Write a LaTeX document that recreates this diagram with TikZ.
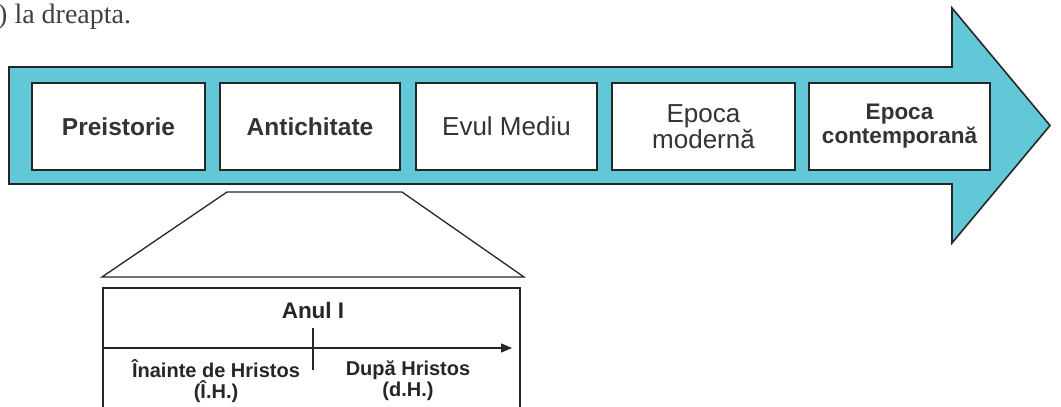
\documentclass[tikz,border=0pt]{standalone}
\usepackage{fontspec}
\setmainfont{Liberation Sans}
\newfontfamily\serifx{Liberation Serif}
\usetikzlibrary{arrows.meta}
\definecolor{bandblue}{RGB}{98,200,216}
\tikzset{
  era/.style={draw=black!85, line width=1.6pt, fill=white, minimum width=#1, minimum height=87pt, inner sep=0pt, align=center, text=black!80},
  era/.default=180pt,
  outline/.style={draw=black!85, line width=1.6pt},
  lbl/.style={font=\fontsize{20}{21}\selectfont\bfseries, text=black!85, align=center, inner sep=0pt}
}
\begin{document}
\begin{tikzpicture}[x=1pt,y=-1pt]
\useasboundingbox (0,0) rectangle (1061,407);
% header text
\node[anchor=base west, inner sep=0pt, font=\serifx\fontsize{28}{30}\selectfont, text=black!75] (hdr) at (-2,23) {) la dreapta.};
% big arrow
\draw[outline, fill=bandblue] (9,67) -- (952,67) -- (952,8) -- (1050,125.5) -- (952,243) -- (952,184) -- (9,184) -- cycle;
% era boxes
\node[era=173pt, font=\fontsize{24.5}{26}\selectfont\bfseries] (pre) at (118.5,126.5) {Preistorie};
\node[era=180pt, font=\fontsize{24.5}{26}\selectfont\bfseries] (ant) at (310,126.5) {Antichitate};
\node[era=181pt, font=\fontsize{26}{28}\selectfont] (evul) at (506.5,126.5) {Evul Mediu};
\node[era=183pt, font=\fontsize{26}{26}\selectfont] (mod) at (703.5,126.5) {Epoca\\modernă};
\node[era=181pt, font=\fontsize{22.5}{24}\selectfont\bfseries] (con) at (899.5,126.5) {Epoca\\contemporană};
% trapezoid (zoom)
\draw[outline, line width=1.3pt] (227,192) -- (402,192) -- (524,277) -- (102,277) -- cycle;
% detail box (cut at bottom)
\draw[outline, line width=1.3pt] (103,409) -- (103,288) -- (520,288) -- (520,409);
\coordinate (tl) at (103,348);
\coordinate (tr) at (512,348);
\draw[line width=1.3pt, black!85, -{Triangle[length=11pt,width=9pt]}] (tl) -- (tr);
\coordinate (tk1) at (313,328);
\coordinate (tk2) at (313,370);
\draw[line width=1.1pt, black!85] (tk1) -- (tk2);
\node[lbl, font=\fontsize{22.5}{24}\selectfont\bfseries] (anul) at (313,310) {Anul I};
\node[lbl] (ih) at (216,381) {Înainte de Hristos\\(Î.H.)};
\node[lbl] (dh) at (408,381) {După Hristos\\(d.H.)};
\end{tikzpicture}
\end{document}
